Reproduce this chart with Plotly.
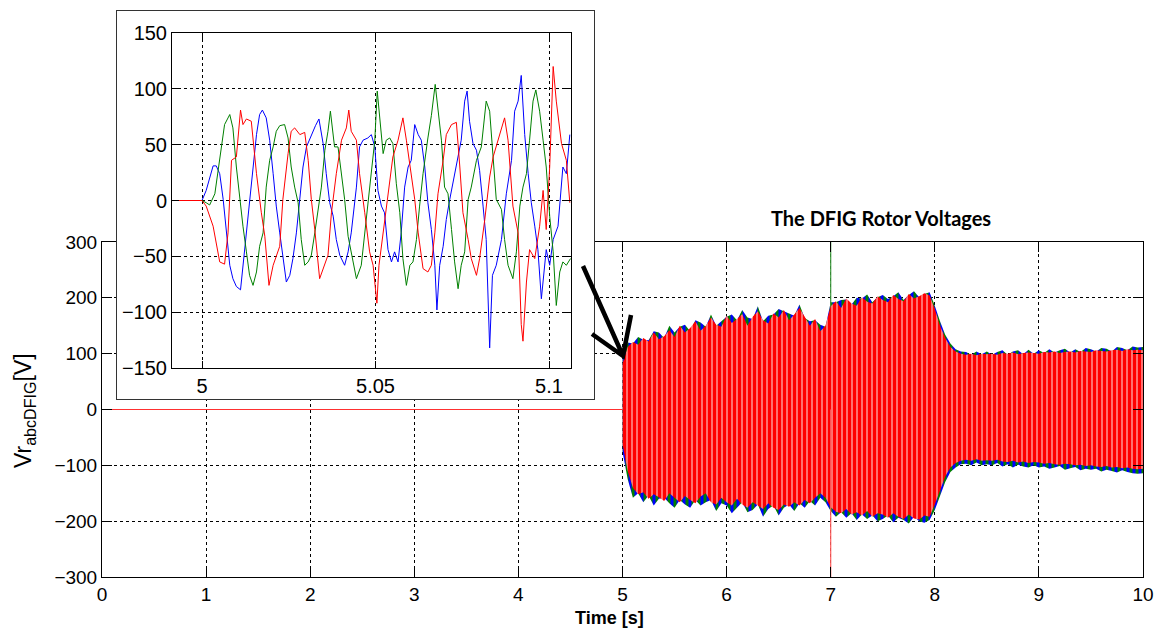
import plotly.graph_objects as go

W, H = 1163, 630

BLUE = "#0000ff"
GREEN = "#008000"
RED = "#ff0000"

# ---------------------------------------------------------------------------
# Full record, 0 - 10 s
# ---------------------------------------------------------------------------
# Before the rotor circuit is energised all three phases sit at 0 V
pre_t = [0.0, 5.0]
pre_v = [0.0, 0.0]

# Envelope of the rotor phase voltages after 5 s, sampled every 50 ms (V)
env_t = [round(5.0 + 0.05 * k, 2) for k in range(101)]

# phases a / b (blue / green): outermost peaks
ab_hi = [95, 120, 118, 130, 125, 124, 140, 138, 128, 150,
         138, 148, 152, 140, 160, 156, 148, 170, 150, 158,
         166, 170, 160, 178, 165, 162, 185, 158, 168, 170,
         180, 176, 172, 168, 188, 164, 158, 160, 152, 148,
         192, 192, 196, 197, 188, 200, 199, 206, 192, 201,
         205, 198, 203, 210, 196, 205, 212, 201, 207, 210,
         186, 158, 134, 118, 108, 104, 103, 98, 104, 99,
         104, 98, 103, 106, 98, 104, 106, 99, 107, 100,
         106, 101, 108, 102, 106, 109, 102, 108, 103, 110,
         108, 104, 110, 109, 104, 112, 110, 106, 113, 111,
         112]
ab_lo = [-75, -125, -158, -150, -166, -154, -172, -160, -158, -168,
         -176, -162, -170, -176, -162, -172, -166, -162, -182, -168,
         -172, -186, -176, -166, -184, -180, -170, -192, -178, -172,
         -190, -176, -170, -182, -168, -176, -164, -172, -158, -166,
         -182, -192, -184, -194, -186, -198, -188, -196, -190, -200,
         -196, -190, -202, -194, -198, -204, -192, -200, -203, -198,
         -180, -155, -130, -112, -104, -98, -97, -100, -95, -100,
         -98, -100, -96, -102, -98, -104, -99, -102, -104, -100,
         -104, -102, -106, -104, -101, -108, -105, -103, -109, -106,
         -108, -106, -111, -108, -110, -113, -109, -112, -114, -115,
         -114]

# phase c (red) peaks
c_hi = [82, 112, 121, 116, 128, 122, 138, 126, 131, 142,
        130, 150, 138, 146, 158, 141, 150, 165, 152, 148,
        168, 155, 162, 171, 150, 166, 176, 160, 154, 172,
        165, 178, 160, 170, 182, 166, 150, 162, 140, 150,
        185, 194, 182, 199, 190, 186, 201, 193, 190, 203,
        196, 192, 205, 198, 194, 207, 199, 203, 208, 204,
        180, 150, 128, 112, 104, 100, 98, 100, 97, 100,
        99, 100, 98, 101, 100, 102, 99, 101, 102, 101,
        100, 103, 102, 104, 101, 103, 104, 102, 105, 104,
        103, 106, 105, 104, 106, 107, 105, 108, 106, 107,
        106]
c_lo = [-62, -110, -140, -152, -148, -160, -152, -157, -164, -150,
        -158, -166, -155, -162, -168, -156, -150, -166, -170, -158,
        -166, -172, -160, -170, -176, -166, -172, -178, -168, -176,
        -180, -170, -174, -166, -172, -162, -168, -158, -150, -158,
        -175, -183, -186, -178, -188, -184, -190, -182, -192, -186,
        -188, -194, -186, -192, -196, -188, -195, -197, -190, -192,
        -170, -145, -120, -104, -96, -92, -90, -92, -89, -92,
        -91, -92, -90, -93, -94, -92, -95, -93, -96, -94,
        -95, -97, -96, -98, -99, -97, -98, -100, -99, -101,
        -100, -102, -103, -101, -104, -103, -105, -104, -106, -107,
        -106]

# Switching transient at t = 7 s
spike_t = [7.0, 7.0]
spike_b = [0, 330]
spike_c = [0, -330]

# ---------------------------------------------------------------------------
# Detail 5.0 - 5.106 s : (time after 5 s in ms, voltage in V)
# ---------------------------------------------------------------------------
detail_a = [(-9, 0), (0, 0), (1.2, 9), (3.2, 31), (4.1, 31), (5.1, 24), (6.1, 1),
            (7.0, -26), (8.0, -58), (8.9, -70), (9.9, -77), (11.1, -80),
            (11.8, -58), (12.8, -29), (13.7, 1), (14.7, 30), (15.7, 59),
            (16.6, 77), (17.4, 81), (18.5, 74), (19.5, 54), (20.5, 24),
            (21.4, -5), (22.4, -29), (23.3, -52), (24.3, -73), (25.3, -67),
            (26.2, -52), (27.2, -29), (28.2, 1), (29.1, 30), (30.1, 48),
            (31.5, 59), (32.7, 67), (33.7, 73), (34.9, 51), (35.8, 24),
            (36.8, -2), (37.8, -14), (38.7, -35), (39.7, -49), (41.1, -58),
            (42.1, -46), (43.0, -29), (44.5, 12), (45.4, 48), (46.4, 54),
            (47.8, 56), (48.8, 59), (49.8, 48), (50.7, 9), (51.7, -5),
            (52.6, -11), (53.6, -44), (54.6, -55), (55.5, -46), (56.5, -55),
            (57.4, -29), (58.4, 12), (59.4, 30), (60.3, 36), (61.3, 68),
            (62.3, 59), (63.2, 54), (64.2, 30), (65.1, -2), (66.1, -26),
            (67.1, -58), (67.7, -98), (68.5, -58), (69.5, -41), (70.4, -17),
            (71.4, 1), (72.8, 24), (73.8, 39), (74.7, 54), (75.7, 89),
            (76.4, 98), (77.1, 71), (78.1, 51), (79.1, 45), (80.0, 27),
            (81.0, -5), (81.9, -35), (82.9, -132), (83.7, -67), (84.8, -58),
            (86.3, -35), (87.7, 6), (89.2, 36), (90.1, 80), (91.1, 89),
            (92.0, 112), (93.0, 59), (94.0, 24), (94.9, -2), (95.9, -23),
            (96.8, -44), (97.8, -88), (99.2, -44), (100.2, -58), (101.2, -35),
            (102.6, -23), (104.0, 30), (105.0, 24), (106.0, 59)]

detail_b = [(-9, 0), (0, 0), (1.2, -2), (2.2, -4), (3.7, 6), (4.6, 27), (5.6, 51),
            (6.5, 68), (8.0, 77), (8.9, 65), (9.9, 30), (10.9, 1), (11.8, -23),
            (12.8, -46), (13.7, -67), (14.7, -76), (15.7, -64), (16.6, -41),
            (17.6, -29), (18.5, 12), (19.5, 36), (20.5, 48), (21.4, 62),
            (22.4, 67), (23.8, 68), (24.8, 56), (25.7, 30), (26.7, 12),
            (27.7, -2), (28.6, -35), (29.6, -58), (30.6, -55), (31.5, -49),
            (32.5, -29), (33.4, -11), (34.4, 12), (35.4, 45), (36.3, 62),
            (37.0, 80), (38.2, 48), (39.2, 48), (40.2, 21), (41.1, 1),
            (42.1, -32), (43.0, -46), (44.5, -70), (45.9, -58), (46.9, -29),
            (47.8, 1), (48.8, 24), (49.8, 54), (50.5, 98), (51.2, 74),
            (52.2, 42), (53.1, 54), (54.1, 56), (55.0, 51), (56.0, 15),
            (57.0, -11), (57.9, -52), (58.9, -76), (59.9, -58), (60.8, -55),
            (61.8, -35), (62.7, -5), (63.7, 24), (65.1, 56), (66.1, 76),
            (67.2, 104), (68.0, 80), (69.0, 54), (69.9, 12), (70.9, 6),
            (71.9, -26), (72.8, -55), (73.8, -79), (74.7, -58), (75.7, -46),
            (76.7, 1), (77.6, 12), (79.1, 36), (80.5, 48), (81.9, 89),
            (82.9, 80), (83.9, 42), (84.8, 1), (86.3, -8), (87.2, -35),
            (88.2, -58), (89.6, -70), (90.6, -46), (91.6, -5), (92.5, 12),
            (93.5, 24), (94.4, 54), (95.4, 89), (96.2, 99), (97.3, 80),
            (98.3, 54), (99.2, 30), (100.2, -14), (101.2, -46), (102.1, -94),
            (103.1, -64), (104.0, -55), (105.0, -58), (106.2, -52)]

detail_c = [(-9, 0), (0, 0), (1.2, -5), (3.2, -23), (5.1, -55), (6.5, -57),
            (7.5, -29), (8.5, 36), (9.9, 39), (11.1, 81), (11.8, 68),
            (12.8, 73), (14.2, 71), (15.7, 24), (17.1, -11), (18.1, -32),
            (19.3, -76), (20.5, -58), (22.4, -41), (23.3, 1), (24.8, 42),
            (25.7, 62), (26.7, 65), (28.2, 59), (29.6, 61), (30.6, 36),
            (31.5, 1), (32.5, -26), (33.9, -70), (35.4, -58), (36.3, -49),
            (37.3, -11), (38.7, 24), (40.2, 54), (41.6, 65), (42.3, 81),
            (43.0, 62), (44.5, 54), (45.4, 24), (46.9, -11), (48.3, -46),
            (49.3, -58), (50.4, -92), (51.0, -58), (52.2, -29), (53.6, 4),
            (55.0, 39), (56.5, 54), (57.9, 74), (58.9, 54), (60.3, 24),
            (61.3, 1), (62.3, -29), (63.7, -61), (65.1, -64), (66.1, -58),
            (67.1, -29), (68.0, 6), (69.5, 36), (70.4, 59), (71.9, 68),
            (73.3, 70), (74.3, 30), (75.2, -11), (76.7, -35), (77.6, -52),
            (79.1, -67), (80.0, -52), (81.5, -17), (82.9, 21), (83.9, 39),
            (85.3, 54), (87.2, 74), (88.2, 54), (89.6, -5), (91.1, -29),
            (92.0, -111), (92.5, -126), (93.5, -73), (94.4, -44), (95.9, -52),
            (97.3, -23), (98.3, 9), (99.2, -26), (100.2, 30), (101.2, 120),
            (102.1, 89), (103.6, 51), (105.0, 36), (106.0, -2)]

# ---------------------------------------------------------------------------
# Layout helpers (pixel -> paper fraction)
# ---------------------------------------------------------------------------
def fx(px):
    return px / W


def fy(py):
    return 1 - py / H


def band(t, hi, lo):
    return list(t) + list(t)[::-1], list(hi) + list(lo)[::-1]


fig = go.Figure()

# full record
for col in (BLUE, GREEN, "#ff3030"):
    fig.add_trace(go.Scatter(x=pre_t, y=pre_v, mode="lines",
                             line=dict(color=col, width=1),
                             xaxis="x", yaxis="y"))

bx, by = band(env_t, ab_hi, ab_lo)
fig.add_trace(go.Scatter(x=bx, y=by, mode="none", fill="toself",
                         fillpattern=dict(shape="|", fgcolor=GREEN, bgcolor=BLUE,
                                          size=6, solidity=0.5),
                         xaxis="x", yaxis="y"))
fig.add_trace(go.Scatter(x=spike_t, y=spike_b, mode="lines",
                         line=dict(color="#3c9a3c", width=1.2),
                         xaxis="x", yaxis="y"))
cx, cy = band(env_t, c_hi, c_lo)
fig.add_trace(go.Scatter(x=cx, y=cy, mode="none", fill="toself",
                         fillpattern=dict(shape="|", fgcolor=RED, bgcolor="#ff7070",
                                          size=5, solidity=0.6),
                         xaxis="x", yaxis="y"))
fig.add_trace(go.Scatter(x=spike_t, y=spike_c, mode="lines",
                         line=dict(color="#ff5a5a", width=1.2),
                         xaxis="x", yaxis="y"))

# white frame around the detail window
fig.add_trace(go.Scatter(x=[None], y=[None], mode="lines", hoverinfo="skip",
                         xaxis="x2", yaxis="y2"))

# detail window
for series, col in ((detail_a, BLUE), (detail_b, GREEN), (detail_c, RED)):
    fig.add_trace(go.Scatter(x=[5 + ms / 1000 for ms, _ in series],
                             y=[v for _, v in series],
                             mode="lines", line=dict(color=col, width=1),
                             xaxis="x3", yaxis="y3"))

TICK_FONT = dict(family="Liberation Sans, Arial, sans-serif", size=19, color="#000")
grid = dict(showgrid=True, gridcolor="#000", gridwidth=1, griddash="3px,3px",
            zeroline=False, showline=True, linecolor="#000", linewidth=1,
            ticks="inside", tickcolor="#000", mirror="ticks", automargin=False)
frame = dict(showgrid=False, zeroline=False, showticklabels=False, ticks="",
             showline=True, mirror=True, linecolor="#333", linewidth=1,
             range=[0, 1], automargin=False)

fig.update_layout(
    template="none",
    width=W, height=H,
    margin=dict(l=0, r=0, t=0, b=0, pad=0),
    paper_bgcolor="white", plot_bgcolor="white",
    font=dict(family="Liberation Sans, Arial, sans-serif", color="#000"),
    showlegend=False, hovermode=False,
    xaxis=dict(domain=[fx(102), fx(1143)], range=[0, 10], anchor="y",
               tickmode="linear", tick0=0, dtick=1, ticklen=10,
               tickfont=TICK_FONT, **grid),
    yaxis=dict(domain=[fy(577), fy(242)], range=[-300, 300], anchor="x",
               tickmode="linear", tick0=-300, dtick=100, ticklen=10,
               tickfont=TICK_FONT, **grid),
    xaxis2=dict(domain=[fx(117), fx(594)], anchor="y2", **frame),
    yaxis2=dict(domain=[fy(399), fy(11)], anchor="x2", **frame),
    xaxis3=dict(domain=[fx(172), fx(571)], range=[4.99135, 5.10634], anchor="y3",
                tickmode="array", tickvals=[5, 5.05, 5.1], ticktext=["5", "5.05", "5.1"],
                ticklen=7, tickfont=dict(TICK_FONT, size=20), **grid),
    yaxis3=dict(domain=[fy(368), fy(33)], range=[-150, 150], anchor="x3",
                tickmode="linear", tick0=-150, dtick=50, ticklen=7,
                tickfont=dict(TICK_FONT, size=20), **grid),
    annotations=[
        dict(text="<b>The DFIG Rotor Voltages</b>", x=fx(881), y=fy(218),
             xref="paper", yref="paper", showarrow=False,
             xanchor="center", yanchor="middle",
             font=dict(family="Lato, Open Sans, sans-serif", size=20, color="#000")),
        dict(text="<b>Time [s]</b>", x=fx(609), y=fy(618),
             xref="paper", yref="paper", showarrow=False,
             xanchor="center", yanchor="middle",
             font=dict(family="Liberation Sans, Arial, sans-serif", size=18, color="#000")),
        dict(text="Vr<sub>abcDFIG</sub>[V]", x=fx(24), y=fy(411),
             xref="paper", yref="paper", showarrow=False, textangle=-90,
             xanchor="center", yanchor="middle",
             font=dict(family="Liberation Sans, Arial, sans-serif", size=23, color="#000")),
    ],
    shapes=[
        dict(type="path", xref="paper", yref="paper", layer="above",
             path=(f"M {fx(583)},{fy(266)} L {fx(623)},{fy(356)} "
                   f"M {fx(631)},{fy(315)} L {fx(623)},{fy(356)} L {fx(592)},{fy(334)}"),
             line=dict(color="#000", width=4.5)),
    ],
)

fig.write_html("out.html")
